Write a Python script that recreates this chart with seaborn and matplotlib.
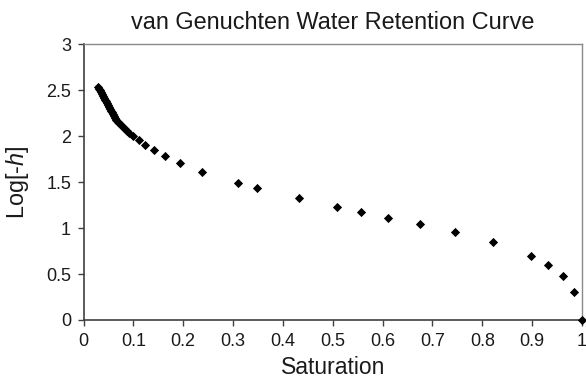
import matplotlib
matplotlib.use("Agg")
import matplotlib.pyplot as plt
import seaborn as sns
import pandas as pd

# Data (Saturation vs log10 of suction head)
saturation = [1.000, 0.983, 0.961, 0.931, 0.898, 0.822, 0.746, 0.675, 0.611, 0.557,
              0.509, 0.432, 0.349, 0.309, 0.238, 0.194, 0.164, 0.141, 0.124, 0.111,
              0.099,
              0.091, 0.087, 0.083, 0.079, 0.075, 0.072, 0.069, 0.066, 0.063, 0.061,
              0.059, 0.057, 0.055, 0.053, 0.051, 0.049, 0.047, 0.045, 0.043, 0.041,
              0.039, 0.037, 0.035, 0.034, 0.032, 0.030]
log_h = [0.000, 0.302, 0.479, 0.602, 0.700, 0.846, 0.955, 1.042, 1.114, 1.176,
         1.234, 1.325, 1.434, 1.492, 1.615, 1.706, 1.786, 1.851, 1.909, 1.960,
         2.004,
         2.04, 2.06, 2.08, 2.10, 2.12, 2.14, 2.16, 2.18, 2.20, 2.22,
         2.24, 2.26, 2.28, 2.30, 2.32, 2.34, 2.36, 2.38, 2.40, 2.42,
         2.44, 2.46, 2.48, 2.50, 2.52, 2.54]

x_ticks = [0, 0.1, 0.2, 0.3, 0.4, 0.5, 0.6, 0.7, 0.8, 0.9, 1]
x_tick_labels = ["0", "0.1", "0.2", "0.3", "0.4", "0.5", "0.6", "0.7", "0.8", "0.9", "1"]
y_ticks = [0, 0.5, 1, 1.5, 2, 2.5, 3]
y_tick_labels = ["0", "0.5", "1", "1.5", "2", "2.5", "3"]

title = "van Genuchten Water Retention Curve"
x_label = "Saturation"
y_label = "Log[-$\\mathit{h}$]"

sns.set_theme(style="white")
plt.rcParams["font.family"] = ["Liberation Sans", "DejaVu Sans"]
plt.rcParams["mathtext.fontset"] = "custom"
plt.rcParams["mathtext.rm"] = "Liberation Sans"
plt.rcParams["mathtext.it"] = "Liberation Sans:italic"

df = pd.DataFrame({"Saturation": saturation, "logh": log_h})

fig = plt.figure(figsize=(5.86, 3.79), dpi=100)
ax = fig.add_axes([0.1425, 0.1557, 0.8507, 0.7269])

sns.scatterplot(data=df, x="Saturation", y="logh", marker="D", color="black",
                s=22, linewidth=0, ax=ax, clip_on=False, zorder=3)

ax.set_xlim(0, 1)
ax.set_ylim(0, 3)
ax.set_xticks(x_ticks)
ax.set_xticklabels(x_tick_labels)
ax.set_yticks(y_ticks)
ax.set_yticklabels(y_tick_labels)
ax.tick_params(axis="both", which="major", labelsize=13, length=4, width=1,
               color="#404040", labelcolor="#1a1a1a", direction="out",
               bottom=True, left=True)
ax.tick_params(axis="x", pad=5.5)
ax.tick_params(axis="y", pad=5)

for side in ["left", "bottom"]:
    ax.spines[side].set_color("#404040")
    ax.spines[side].set_linewidth(1.2)
for side in ["top", "right"]:
    ax.spines[side].set_color("#8a8a8a")
    ax.spines[side].set_linewidth(1.0)

ax.set_xlabel(x_label, fontsize=16.5, color="#1a1a1a", labelpad=4)
ax.set_ylabel(y_label, fontsize=16.8, color="#1a1a1a", labelpad=11)
ax.set_title(title, fontsize=16.9, color="#1a1a1a", pad=11)

fig.savefig("out.png", dpi=100)
